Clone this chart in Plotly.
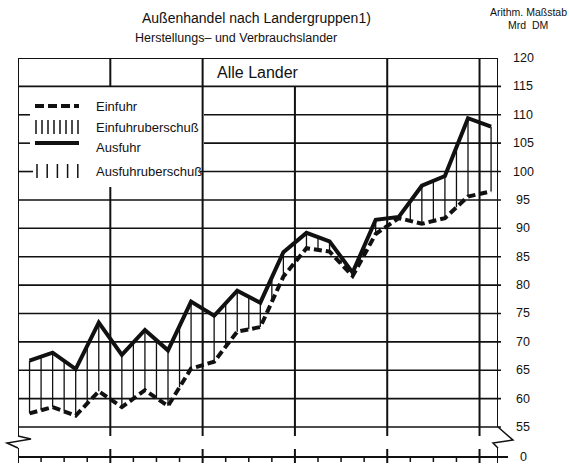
import numpy as np
import plotly.graph_objects as go

# ---------------- data ----------------
quarters = list(range(21))  # quarterly observations
ausfuhr = [66.7, 68.1, 65.2, 73.4, 67.7, 72.1, 68.5, 77.1, 74.6, 79.0, 76.9,
           85.8, 89.2, 87.7, 82.2, 91.5, 92.0, 97.5, 99.2, 109.4, 107.9]
einfuhr = [57.4, 58.5, 57.0, 61.3, 58.5, 61.5, 58.7, 65.3, 66.5, 71.8, 72.6,
           81.5, 86.5, 85.9, 81.6, 89.0, 91.8, 90.8, 91.8, 95.6, 96.5]
y_ticks = [55, 60, 65, 70, 75, 80, 85, 90, 95, 100, 105, 110, 115, 120]
y_tick_labels = [str(v) for v in y_ticks]
zero_label = "0"
legend_labels = ["Einfuhr", "Einfuhruberschuß", "Ausfuhr", "Ausfuhruberschuß"]
title_text = "Außenhandel nach Landergruppen1)"
subtitle_text = "Herstellungs\u2013 und Verbrauchslander"
panel_label = "Alle Lander"
unit_lines = ["Arithm. Maßstab", "Mrd  DM"]

# ---------------- geometry helpers (layout only) ----------------
W, H = 569, 464
L, R, T, B = 18, 71, 58, 1
PPU = 5.677            # pixels per y unit
YTOP = 120
YBOT = YTOP - (H - T - B) / PPU
XMAX = 20.8
ZERO_POS = YTOP - (457 - T) / PPU


def vy(py):
    return YTOP - (py - T) / PPU


def px(x):
    return (x - L) / (W - L - R)


FONT = "Liberation Sans, Arial, Helvetica, sans-serif"
BLACK = "#111111"

xq = np.array(quarters) + 0.5

fig = go.Figure()

# hatching (Ausfuhrüberschuß) between the curves
xs = np.arange(0.5, xq[-1] + 0.01, 0.5)
lo = np.interp(xs, xq, einfuhr)
hi = np.interp(xs, xq, ausfuhr)
hx, hy = [], []
for x, a, b in zip(xs, lo, hi):
    hx += [x, x, None]
    hy += [a, b, None]
fig.add_trace(go.Scatter(x=hx, y=hy, mode="lines",
                         line=dict(color=BLACK, width=1.3),
                         hoverinfo="skip", showlegend=False))

fig.add_trace(go.Scatter(x=xq, y=einfuhr, mode="lines", name="Einfuhr",
                         line=dict(color=BLACK, width=4, dash="8px,4px"),
                         showlegend=False))
fig.add_trace(go.Scatter(x=xq, y=ausfuhr, mode="lines", name="Ausfuhr",
                         line=dict(color=BLACK, width=4),
                         showlegend=False))

shapes = []


def hline(v, x0p, x1p, w=1.6):
    shapes.append(dict(type="line", xref="paper", yref="y", x0=px(x0p), x1=px(x1p),
                       y0=v, y1=v, line=dict(color=BLACK, width=w), layer="below"))


def vline(xv, y0, y1, w=2):
    shapes.append(dict(type="line", xref="x", yref="y", x0=xv, x1=xv,
                       y0=y0, y1=y1, line=dict(color=BLACK, width=w), layer="below"))


# horizontal grid lines (interrupted by the legend block)
legend_gap = {110: (30, 204), 105: (30, 204), 100: (33, 200)}
for v in y_ticks[:-1]:
    if v in legend_gap:
        a, b = legend_gap[v]
        hline(v, L, a)
        hline(v, b, 501)
    else:
        hline(v, L, 501)
# top frame
hline(120, L, W - R, w=2)

# vertical year lines
vline(4, 120, 115)            # top band
vline(4, vy(187), vy(436))    # below legend
vline(8, 120, vy(436))
vline(12, 115, vy(436))       # interrupted by panel label
vline(16, 120, vy(436))
vline(20, 120, vy(436))
for xv in [4, 8, 12, 16, 20]:
    vline(xv, vy(449), YBOT)
# left frame
vline(0, 120, vy(436))
vline(0, vy(448), YBOT)
# right frame
vline(XMAX, 120, 55)
vline(XMAX, vy(448), YBOT)
# break zigzags
shapes.append(dict(type="path", xref="paper", yref="y",
                   path=f"M 0,{vy(436)} L {px(31)},{vy(439)} L {px(7)},{vy(443)} L 0,{vy(448)}",
                   line=dict(color=BLACK, width=1.5), layer="below"))
shapes.append(dict(type="path", xref="paper", yref="y",
                   path=f"M 1,55 L {px(513)},{vy(440)} L {px(493)},{vy(443)} L 1,{vy(448)}",
                   line=dict(color=BLACK, width=1.5), layer="below"))
# zero axis line + quarter ticks
hline(ZERO_POS, L, 508, w=2)
for q in range(1, 21):
    if q % 4:
        vline(q, ZERO_POS, vy(462), w=1.5)

# legend samples
shapes.append(dict(type="line", xref="paper", yref="y", x0=px(35), x1=px(79),
                   y0=vy(106), y1=vy(106), line=dict(color=BLACK, width=4, dash="9px,4px")))
for i in range(8):
    xx = px(36 + i * 6)
    shapes.append(dict(type="line", xref="paper", yref="y", x0=xx, x1=xx,
                       y0=vy(120), y1=vy(134), line=dict(color=BLACK, width=1.5)))
shapes.append(dict(type="line", xref="paper", yref="y", x0=px(35), x1=px(79),
                   y0=vy(143), y1=vy(143), line=dict(color=BLACK, width=4)))
for i in range(5):
    xx = px(37 + i * 10.2)
    shapes.append(dict(type="line", xref="paper", yref="y", x0=xx, x1=xx,
                       y0=vy(164), y1=vy(178), line=dict(color=BLACK, width=1.5)))

annotations = []
# y tick labels on the right
for v, t in zip(y_ticks, y_tick_labels):
    annotations.append(dict(xref="paper", yref="y", x=px(523), y=v, text=t,
                            showarrow=False, xanchor="center", yanchor="middle",
                            font=dict(family=FONT, size=12.5, color=BLACK)))
annotations.append(dict(xref="paper", yref="y", x=px(523), y=ZERO_POS, text=zero_label,
                        showarrow=False, xanchor="center", yanchor="middle",
                        font=dict(family=FONT, size=12.5, color=BLACK)))
# legend texts
for t, py_ in zip(legend_labels, [106, 127, 147, 171]):
    annotations.append(dict(xref="paper", yref="y", x=px(94), y=vy(py_), text=t,
                            showarrow=False, xanchor="left", yanchor="middle",
                            font=dict(family=FONT, size=13, color=BLACK)))
# panel label
annotations.append(dict(xref="paper", yref="y", x=px(258), y=vy(72), text=panel_label,
                        showarrow=False, xanchor="center", yanchor="middle",
                        font=dict(family=FONT, size=16, color=BLACK)))
# titles
annotations.append(dict(xref="paper", yref="paper", x=px(256), y=1, yshift=(T - 18),
                        text=title_text, showarrow=False, xanchor="center",
                        yanchor="middle", font=dict(family=FONT, size=14, color=BLACK)))
annotations.append(dict(xref="paper", yref="paper", x=px(236), y=1, yshift=(T - 38),
                        text=subtitle_text, showarrow=False, xanchor="center",
                        yanchor="middle", font=dict(family=FONT, size=12.5, color=BLACK)))
annotations.append(dict(xref="paper", yref="paper", x=px(528), y=1, yshift=(T - 12),
                        text=unit_lines[0], showarrow=False, xanchor="center",
                        yanchor="middle", font=dict(family=FONT, size=10.5, color=BLACK)))
annotations.append(dict(xref="paper", yref="paper", x=px(528), y=1, yshift=(T - 25),
                        text=unit_lines[1], showarrow=False, xanchor="center",
                        yanchor="middle", font=dict(family=FONT, size=10.5, color=BLACK)))

fig.update_layout(
    width=W, height=H, autosize=False,
    margin=dict(l=L, r=R, t=T, b=B, pad=0),
    paper_bgcolor="white", plot_bgcolor="white",
    showlegend=False,
    xaxis=dict(range=[0, XMAX], showgrid=False, zeroline=False, showticklabels=False,
               ticks="", showline=False, fixedrange=True),
    yaxis=dict(range=[YBOT, YTOP], showgrid=False, zeroline=False, showticklabels=False,
               ticks="", showline=False, fixedrange=True),
    shapes=shapes, annotations=annotations,
)

fig.write_html("out.html", config={"displayModeBar": False},
               post_script="document.body.style.margin='0';document.body.style.overflow='hidden';")
